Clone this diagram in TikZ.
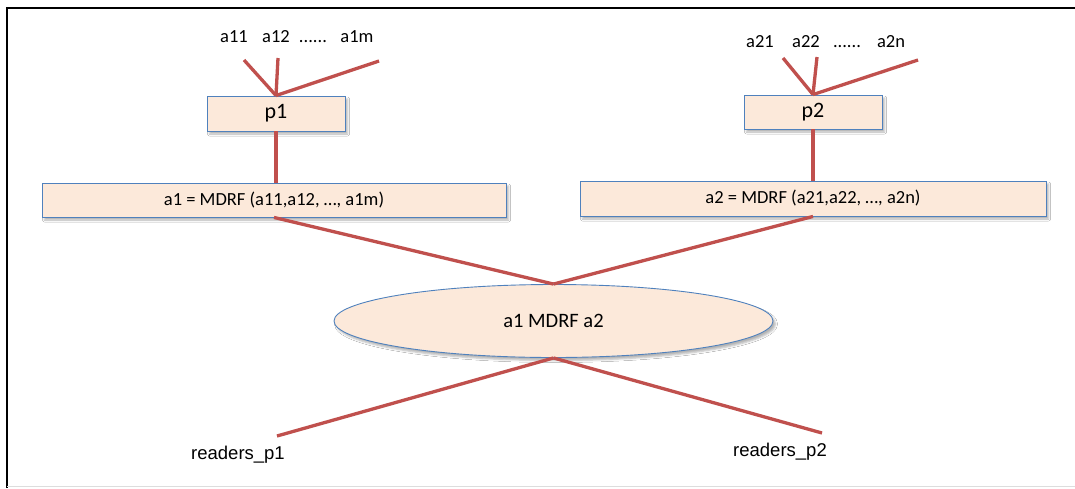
\documentclass[tikz,border=0pt]{standalone}
\usepackage{fontspec}
\setmainfont{Carlito}
\newfontfamily\arialfont{Liberation Sans}
\usetikzlibrary{shapes.geometric,shadows.blur}

\definecolor{linkred}{HTML}{C0504D}
\definecolor{boxfill}{HTML}{FCE9DA}
\definecolor{boxedge}{HTML}{4F81BD}
\definecolor{framegray}{HTML}{DDDDDD}

\tikzset{
  link/.style={draw=linkred, line width=3.3pt},
  softshadow/.style={blur shadow={shadow xshift=2.5pt, shadow yshift=-3pt,
      shadow blur radius=2pt, shadow opacity=30}},
  procbox/.style={draw=boxedge, fill=boxfill, line width=0.9pt, softshadow,
      inner sep=0pt, font=\fontsize{22}{26}\selectfont},
  funcbox/.style={draw=boxedge, fill=boxfill, line width=0.9pt, softshadow,
      inner sep=0pt, font=\fontsize{18.5}{22}\selectfont},
  joinell/.style={ellipse, draw=boxedge, fill=boxfill, line width=0.9pt,
      softshadow, inner sep=0pt, font=\fontsize{20.5}{24}\selectfont},
  attr/.style={anchor=base, inner sep=0pt, font=\fontsize{18.5}{22}\selectfont},
  reader/.style={anchor=base, inner sep=0pt,
      font=\arialfont\fontsize{18.5}{22}\selectfont},
}

\begin{document}
\begin{tikzpicture}[x=1pt, y=-1pt]
  \useasboundingbox (0,0) rectangle (1075,488);
  \fill[white] (0,0) rectangle (1075,488);

  % outer frame
  \draw[black, line width=2pt] (7,488) -- (7,7.5) -- (1075,7.5);
  \draw[framegray, line width=1.5pt] (7,486.5) -- (1075,486.5);

  % attribute labels
  \node[attr] (a11) at (234,42) {a11};
  \node[attr] (a12) at (276,42) {a12};
  \node[attr] (d1)  at (313,42) {......};
  \node[attr] (a1m) at (357,42) {a1m};
  \node[attr] (a21) at (760,47) {a21};
  \node[attr] (a22) at (806,47) {a22};
  \node[attr] (d2)  at (847,47) {......};
  \node[attr] (a2n) at (891,47) {a2n};

  % free ends of the attribute links
  \coordinate (t11) at (244,60);
  \coordinate (t12) at (278,58);
  \coordinate (t1m) at (379,61);
  \coordinate (t21) at (783,58);
  \coordinate (t22) at (817,57);
  \coordinate (t2n) at (918,60);

  % processes and their functions
  \node[procbox, minimum width=138pt, minimum height=35pt] (p1) at (276,113.5) {p1};
  \node[procbox, minimum width=138pt, minimum height=34pt] (p2) at (813,112) {p2};
  \node[funcbox, minimum width=464pt, minimum height=34pt] (f1) at (274,200)
    {a1 = MDRF (a11,a12, …, a1m)};
  \node[funcbox, minimum width=466pt, minimum height=35pt] (f2) at (813,198.5)
    {a2 = MDRF (a21,a22, …, a2n)};

  % combined relation
  \node[joinell, minimum width=439pt, minimum height=73pt] (j) at (553.5,321)
    {a1 MDRF a2};

  % readers
  \node[reader] (r1) at (238,459) {readers\_p1};
  \node[reader] (r2) at (780,456) {readers\_p2};
  \coordinate (e1) at (277,436);
  \coordinate (e2) at (822,433);

  % links
  \draw[link] (t11) -- (p1.north);
  \draw[link] (t12) -- (p1.north);
  \draw[link] (t1m) -- (p1.north);
  \draw[link] (t21) -- (p2.north);
  \draw[link] (t22) -- (p2.north);
  \draw[link] (t2n) -- (p2.north);
  \draw[link] (p1.south) -- (p1.south |- f1.north);
  \draw[link] (p2.south) -- (p2.south |- f2.north);
  \draw[link] (f1.south) -- (j.north);
  \draw[link] (f2.south) -- (j.north);
  \draw[link] (j.south) -- (e1);
  \draw[link] (j.south) -- (e2);
\end{tikzpicture}
\end{document}
